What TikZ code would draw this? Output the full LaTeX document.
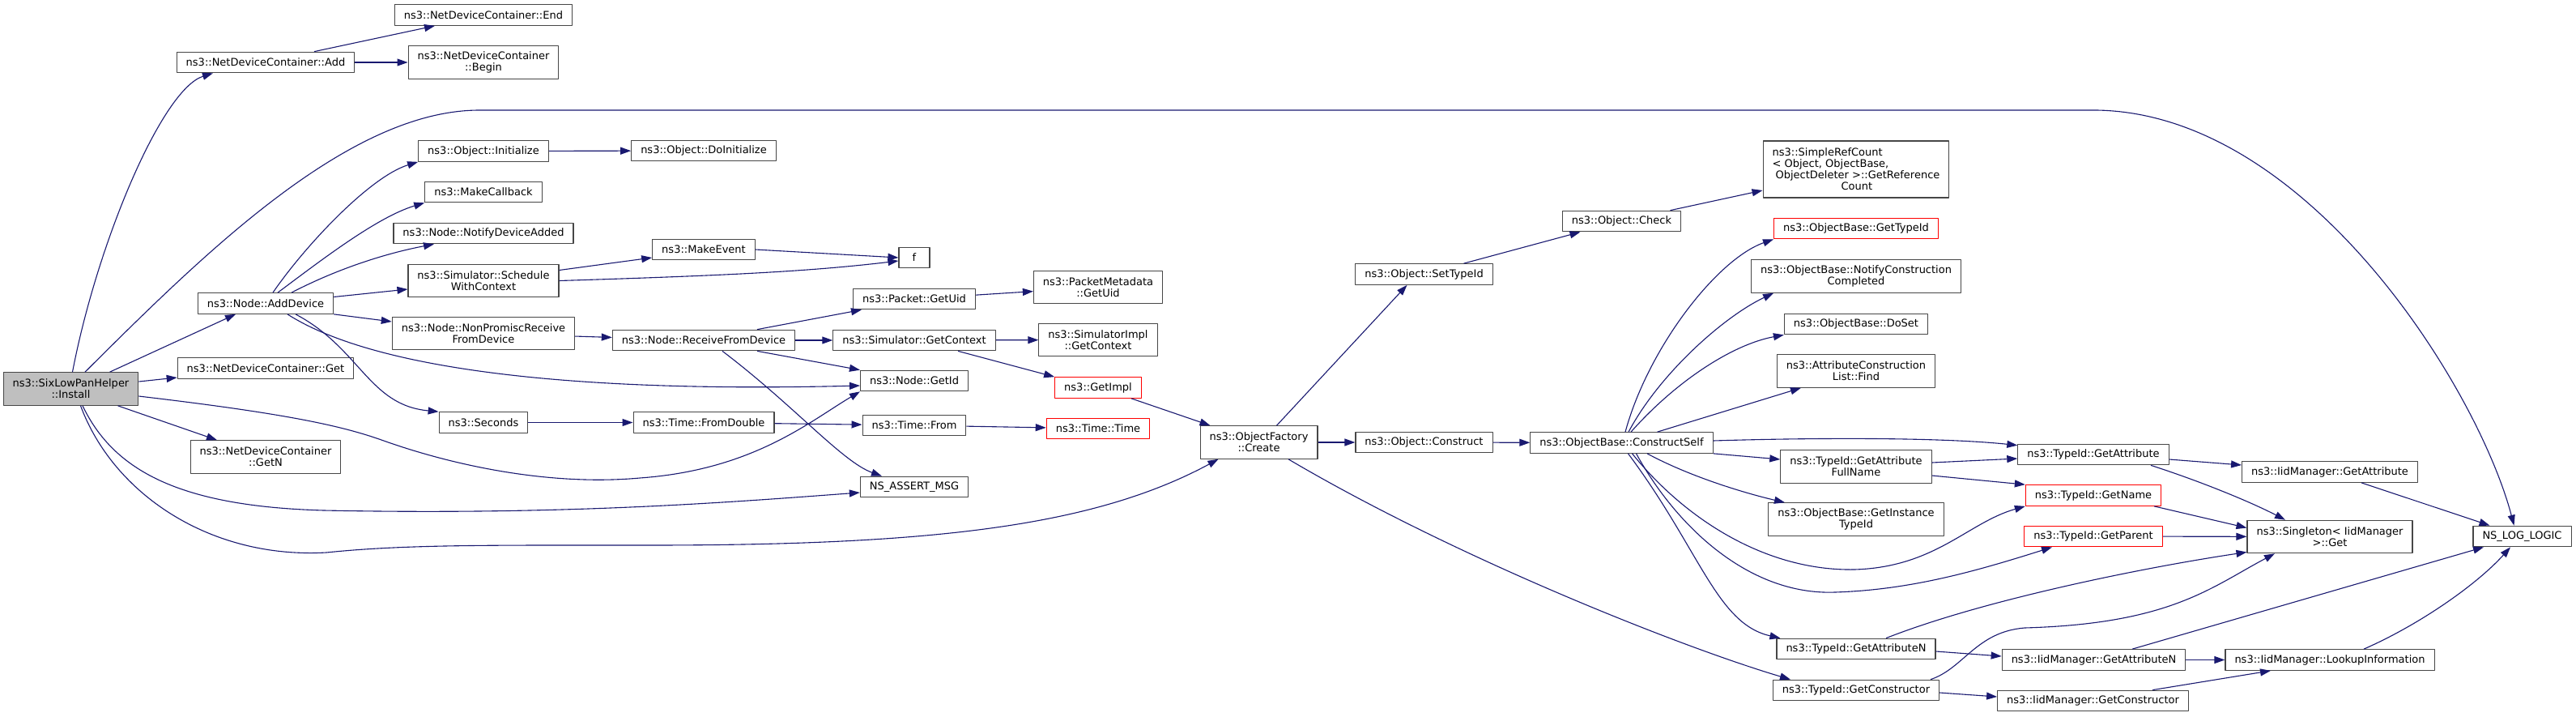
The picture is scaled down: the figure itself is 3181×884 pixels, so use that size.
\documentclass[tikz,border=0pt]{standalone}
\usepackage{fontspec}
\setmainfont{DejaVu Sans}
\usetikzlibrary{arrows.meta}
\definecolor{edgeblue}{HTML}{191970}
\definecolor{rootgray}{HTML}{BFBFBF}
\tikzset{
  fn/.style={draw=black!72, line width=1.1pt, fill=white, rectangle, inner xsep=11.5pt, inner ysep=1pt,
    minimum height=25.6pt, align=center, font=\fontsize{13}{14}\selectfont},
  fn2/.style={fn, minimum height=40.5pt},
  root/.style={fn2, fill=rootgray},
  trunc/.style={fn, draw=red},
  call/.style={draw=edgeblue, line width=1.1pt, -{Triangle[length=13pt,width=9pt]}}
}
\begin{document}
\begin{tikzpicture}[x=1pt, y=-1pt, line join=round]
  \useasboundingbox (0,0) rectangle (3181,884);
  % Knoten (Pixelkoordinaten, y nach unten)
  \node[root] (install) at (87.5,480) {ns3::SixLowPanHelper\\::Install};
  \node[fn] (add) at (328,77) {ns3::NetDeviceContainer::Add};
  \node[fn] (addDevice) at (328,374.5) {ns3::Node::AddDevice};
  \node[fn] (get) at (328,454.5) {ns3::NetDeviceContainer::Get};
  \node[fn2] (getN) at (328,564) {ns3::NetDeviceContainer\\::GetN};
  \node[fn] (devEnd) at (597,18.5) {ns3::NetDeviceContainer::End};
  \node[fn2] (devBegin) at (597,77) {ns3::NetDeviceContainer\\::Begin};
  \node[fn] (initialize) at (597,186.5) {ns3::Object::Initialize};
  \node[fn] (makeCallback) at (597,237) {ns3::MakeCallback};
  \node[fn] (notifyAdded) at (597,288) {ns3::Node::NotifyDeviceAdded};
  \node[fn2] (schedule) at (597,346.5) {ns3::Simulator::Schedule\\WithContext};
  \node[fn2] (nonPromisc) at (597,411.5) {ns3::Node::NonPromiscReceive\\FromDevice};
  \node[fn] (seconds) at (597,521.5) {ns3::Seconds};
  \node[fn] (doInitialize) at (869,186) {ns3::Object::DoInitialize};
  \node[fn] (makeEvent) at (869,308) {ns3::MakeEvent};
  \node[fn] (rfd) at (869,420) {ns3::Node::ReceiveFromDevice};
  \node[fn] (fromDouble) at (869,521.5) {ns3::Time::FromDouble};
  \node[fn, minimum width=38pt] (fCall) at (1129,318) {f};
  \node[fn] (pktUid) at (1129,369) {ns3::Packet::GetUid};
  \node[fn] (simCtx) at (1129,420) {ns3::Simulator::GetContext};
  \node[fn] (getId) at (1129,470) {ns3::Node::GetId};
  \node[fn] (timeFrom) at (1129,525) {ns3::Time::From};
  \node[fn] (assertMsg) at (1129,601) {NS\_ASSERT\_MSG};
  \node[fn2] (metaUid) at (1356,354.5) {ns3::PacketMetadata\\::GetUid};
  \node[fn2] (implCtx) at (1356,419.5) {ns3::SimulatorImpl\\::GetContext};
  \node[trunc] (getImpl) at (1356,478.5) {ns3::GetImpl};
  \node[trunc] (timeTime) at (1356,529) {ns3::Time::Time};
  \node[fn2] (create) at (1554.5,546) {ns3::ObjectFactory\\::Create};
  \node[fn] (setTypeId) at (1758.5,338.5) {ns3::Object::SetTypeId};
  \node[fn] (construct) at (1758.5,546) {ns3::Object::Construct};
  \node[fn] (check) at (2002.5,273) {ns3::Object::Check};
  \node[fn] (constructSelf) at (2002.5,546.5) {ns3::ObjectBase::ConstructSelf};
  \node[fn, minimum height=70pt, align=left] (refCount) at (2292,209)
    {ns3::SimpleRefCount\\< Object, ObjectBase,\\\hspace*{4pt}ObjectDeleter >::GetReference\\\hspace*{85pt}Count};
  \node[trunc] (getTypeId) at (2292,282) {ns3::ObjectBase::GetTypeId};
  \node[fn2] (notifyDone) at (2292,341) {ns3::ObjectBase::NotifyConstruction\\Completed};
  \node[fn] (doSet) at (2292,400) {ns3::ObjectBase::DoSet};
  \node[fn2] (findAttr) at (2292,458) {ns3::AttributeConstruction\\List::Find};
  \node[fn2] (fullName) at (2292,576) {ns3::TypeId::GetAttribute\\FullName};
  \node[fn2] (instTypeId) at (2292,641) {ns3::ObjectBase::GetInstance\\TypeId};
  \node[fn] (getAttrN) at (2292,801) {ns3::TypeId::GetAttributeN};
  \node[fn] (getCtor) at (2292,852) {ns3::TypeId::GetConstructor};
  \node[fn] (getAttr) at (2585,561) {ns3::TypeId::GetAttribute};
  \node[trunc] (getName) at (2585,611.5) {ns3::TypeId::GetName};
  \node[trunc] (getParent) at (2585,662) {ns3::TypeId::GetParent};
  \node[fn] (iidGetAttrN) at (2585.5,814.5) {ns3::IidManager::GetAttributeN};
  \node[fn] (iidGetCtor) at (2584.5,865) {ns3::IidManager::GetConstructor};
  \node[fn] (iidGetAttr) at (2877,582.5) {ns3::IidManager::GetAttribute};
  \node[fn2] (singleton) at (2877,662.5) {ns3::Singleton< IidManager\\ >::Get};
  \node[fn] (lookup) at (2877,814.5) {ns3::IidManager::LookupInformation};
  \node[fn] (nsLog) at (3114.5,662) {NS\_LOG\_LOGIC};
  % Aufrufe von Install
  \draw[call] ([xshift=2pt]install.north) .. controls (120,300) and (200,110) .. ([xshift=-65pt]add.south);
  \draw[call] ([xshift=17.5pt]install.north) .. controls (250,315) and (430,136) .. (592,136) -- (2589,136)
    .. controls (2850,140) and (3060,480) .. ([xshift=-10pt]nsLog.north);
  \draw[call] ([xshift=48pt]install.north) -- ([xshift=-37pt]addDevice.south);
  \draw[call] ([yshift=9pt]install.east) -- ([yshift=-11.5pt]get.west);
  \draw[call] ([xshift=58pt]install.south) -- ([xshift=-60pt]getN.north);
  \draw[call] ([yshift=-9pt]install.east) .. controls (350,510) and (420,525) .. (471,543)
    .. controls (560,575) and (680,600) .. (790,590) .. controls (930,580) and (1000,520) .. (getId.south west);
  \draw[call] ([xshift=14.5pt]install.south) .. controls (140,580) and (220,625) .. (400,630)
    .. controls (700,636) and (900,620) .. ([yshift=-7pt]assertMsg.west);
  \draw[call] ([xshift=12pt]install.south) .. controls (140,610) and (260,690) .. (403,682)
    .. controls (500,672) and (600,673) .. (800,673) .. controls (1150,673) and (1350,650) .. ([xshift=-50pt]create.south);
  % Add / AddDevice
  \draw[call] ([xshift=60pt]add.north) -- ([xshift=-60pt]devEnd.south);
  \draw[call] (add) -- (devBegin);
  \draw[call] ([xshift=9pt]addDevice.north) .. controls (377,303) and (457,218) .. (initialize.south west);
  \draw[call] ([xshift=15pt]addDevice.north) .. controls (393,324) and (465,268) .. (makeCallback.south west);
  \draw[call] ([xshift=32pt]addDevice.north) .. controls (420,330) and (480,312) .. ([xshift=-61pt]notifyAdded.south);
  \draw[call] ([yshift=8pt]addDevice.east) -- ([yshift=-10.5pt]schedule.west);
  \draw[call] (addDevice.south east) -- ([yshift=14.5pt]nonPromisc.west);
  \draw[call] ([xshift=27pt]addDevice.south) .. controls (460,455) and (700,485) .. ([yshift=-6pt]getId.west);
  \draw[call] ([xshift=37pt]addDevice.south) .. controls (445,430) and (455,500) .. (seconds.north west);
  \draw[call] (initialize) -- (doInitialize);
  \draw[call] ([yshift=13pt]schedule.east) -- ([yshift=-10pt]makeEvent.west);
  \draw[call] (schedule.east) .. controls (900,340) and (1000,335) .. ([yshift=-4pt]fCall.west);
  \draw[call] (makeEvent.east) -- (fCall.west);
  \draw[call] (nonPromisc) -- (rfd);
  \draw[call] ([xshift=66pt]rfd.north) -- ([xshift=-65pt]pktUid.south);
  \draw[call] (rfd) -- (simCtx);
  \draw[call] ([xshift=66pt]rfd.south) -- (getId.north west);
  \draw[call] ([xshift=23pt]rfd.south) .. controls (980,500) and (1040,570) .. ([xshift=-40pt]assertMsg.north);
  \draw[call] (pktUid) -- (metaUid);
  \draw[call] (simCtx) -- (implCtx);
  \draw[call] ([xshift=54pt]simCtx.south) -- (getImpl.north west);
  \draw[call] ([xshift=41pt]getImpl.south) -- ([xshift=-60pt]create.north);
  \draw[call] (seconds) -- (fromDouble);
  \draw[call] (fromDouble) -- (timeFrom);
  \draw[call] (timeFrom) -- (timeTime);
  % ObjectFactory::Create
  \draw[call] ([xshift=22pt]create.north) -- ([xshift=-21pt]setTypeId.south);
  \draw[call] (create) -- (construct);
  \draw[call] ([xshift=36.5pt]create.south) .. controls (1800,690) and (2080,800) .. ([xshift=-81pt]getCtor.north);
  \draw[call] ([xshift=49pt]setTypeId.north) -- ([xshift=-51pt]check.south);
  \draw[call] ([xshift=60pt]check.north) -- ([yshift=-26pt]refCount.west);
  \draw[call] (construct) -- (constructSelf);
  % ConstructSelf
  \draw[call] ([xshift=4.5pt]constructSelf.north) .. controls (2035,430) and (2120,320) .. (getTypeId.south west);
  \draw[call] ([xshift=8.5pt]constructSelf.north) .. controls (2050,460) and (2130,390) .. ([xshift=-102pt]notifyDone.south);
  \draw[call] ([xshift=11.5pt]constructSelf.north) .. controls (2070,470) and (2140,425) .. (doSet.south west);
  \draw[call] ([xshift=44pt]constructSelf.north) -- ([xshift=-68pt]findAttr.south);
  \draw[call] ([yshift=2.5pt]constructSelf.east) .. controls (2250,540) and (2400,540) .. ([yshift=-2pt]getAttr.north west);
  \draw[call] (constructSelf.south east) -- ([yshift=9pt]fullName.west);
  \draw[call] ([xshift=31.5pt]constructSelf.south) .. controls (2090,590) and (2160,610) .. ([xshift=-88pt]instTypeId.north);
  \draw[call] ([xshift=13pt]constructSelf.south) .. controls (2080,640) and (2180,705) .. (2290,703)
    .. controls (2390,700) and (2430,645) .. (getName.south west);
  \draw[call] ([xshift=18pt]constructSelf.south) .. controls (2070,650) and (2160,735) .. (2266,731)
    .. controls (2360,728) and (2440,705) .. ([xshift=-51pt]getParent.south);
  \draw[call] ([xshift=8pt]constructSelf.south) .. controls (2100,680) and (2120,770) .. ([xshift=5pt]getAttrN.north west);
  % TypeId / IidManager
  \draw[call] ([yshift=5pt]fullName.east) -- ([yshift=-5pt]getAttr.west);
  \draw[call] ([yshift=-11pt]fullName.east) -- (getName.north west);
  \draw[call] ([yshift=-6pt]getAttr.east) -- ([yshift=8.5pt]iidGetAttr.west);
  \draw[call] ([xshift=71pt]getAttr.south) .. controls (2720,595) and (2780,620) .. ([xshift=-55pt]singleton.north);
  \draw[call] ([xshift=75pt]getName.south) -- ([yshift=11pt]singleton.west);
  \draw[call] (getParent) -- (singleton);
  \draw[call] ([xshift=37pt]getAttrN.north) .. controls (2450,740) and (2650,700) .. ([yshift=-19pt]singleton.west);
  \draw[call] ([xshift=92pt]getCtor.north) .. controls (2425,825) and (2440,780) .. (2500,775)
    .. controls (2680,770) and (2730,725) .. ([xshift=-68pt]singleton.south);
  \draw[call] ([yshift=-3pt]getAttrN.east) -- ([yshift=4.5pt]iidGetAttrN.west);
  \draw[call] ([yshift=-3pt]getCtor.east) -- ([yshift=5pt]iidGetCtor.west);
  \draw[call] ([xshift=39pt]iidGetAttr.south) -- ([xshift=-40pt]nsLog.north);
  \draw[call] ([xshift=47.5pt]iidGetAttrN.north) -- ([xshift=-47.5pt]nsLog.south);
  \draw[call] (iidGetAttrN) -- (lookup);
  \draw[call] ([xshift=42pt]lookup.north) .. controls (2990,770) and (3060,720) .. ([xshift=-14.5pt]nsLog.south);
  \draw[call] ([xshift=73.5pt]iidGetCtor.north) -- ([xshift=-73pt]lookup.south);
\end{tikzpicture}
\end{document}
